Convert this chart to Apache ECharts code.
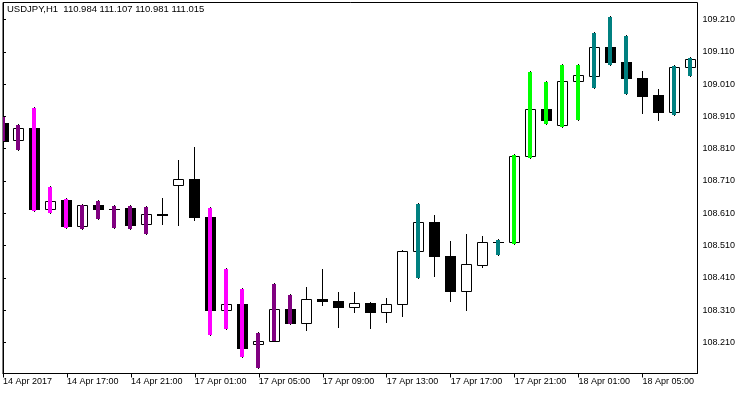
<!DOCTYPE html>
<html>
<head>
<meta charset="utf-8">
<script src="https://cdn.jsdelivr.net/npm/echarts@6/dist/echarts.min.js"></script>
<style>
html,body{margin:0;padding:0;background:#fff;}
#c{width:750px;height:394px;}
</style>
</head>
<body>
<div id="c"></div>
<script>
// ---- data ----
var title = 'USDJPY,H1  110.984 111.107 110.981 111.015';
var open  = [108.891,108.838,108.875,108.624,108.650,108.570,108.637,108.624,108.625,108.577,108.608,108.697,108.715,108.600,108.311,108.328,108.205,108.215,108.315,108.271,108.346,108.340,108.321,108.331,108.305,108.330,108.494,108.584,108.478,108.370,108.451,108.522,108.521,108.788,108.934,108.884,109.020,109.036,109.125,109.079,109.030,108.975,108.923,109.064];
var high  = [108.910,108.888,108.938,108.693,108.656,108.638,108.650,108.635,108.637,108.634,108.656,108.776,108.815,108.629,108.442,108.378,108.244,108.393,108.359,108.383,108.439,108.365,108.365,108.334,108.349,108.495,108.643,108.606,108.523,108.547,108.540,108.530,108.794,109.052,109.021,109.071,109.071,109.170,109.221,109.163,109.052,108.996,109.068,109.095];
var low   = [108.833,108.807,108.617,108.611,108.566,108.562,108.593,108.565,108.562,108.547,108.576,108.574,108.588,108.233,108.251,108.165,108.132,108.214,108.267,108.248,108.327,108.257,108.304,108.254,108.273,108.291,108.409,108.415,108.338,108.310,108.444,108.480,108.514,108.782,108.888,108.878,108.900,108.999,109.069,108.979,108.920,108.898,108.914,109.034];
var close = [108.835,108.875,108.622,108.649,108.570,108.637,108.623,108.624,108.575,108.609,108.604,108.715,108.598,108.310,108.328,108.192,108.216,108.314,108.270,108.345,108.338,108.319,108.331,108.304,108.330,108.494,108.584,108.477,108.369,108.454,108.522,108.522,108.788,108.934,108.899,109.020,109.037,109.125,109.078,109.030,108.973,108.923,109.064,109.088];
// histogram colour state per bar: M=magenta, P=purple, T=teal, L=lime, ''=none
var histState = ['P','P','M','M','M','P','P','P','P','P','','','','M','M','M','P','P','P','','','','','','','','T','','','','','T','L','L','L','L','L','T','T','T','','','T','T'];
var histColors = {M:'#FF00FF', P:'#800080', T:'#008080', L:'#00FF00'};
var yTicks = [108.210,108.310,108.410,108.510,108.610,108.710,108.810,108.910,109.010,109.110,109.210];
var xTickIndex = [0,4,8,12,16,20,24,28,32,36,40];
var xTickLabels = ['14 Apr 2017','14 Apr 17:00','14 Apr 21:00','17 Apr 01:00','17 Apr 05:00','17 Apr 09:00','17 Apr 13:00','17 Apr 17:00','17 Apr 21:00','18 Apr 01:00','18 Apr 05:00'];

// ---- build ----
var rows = open.map(function(o,i){ return [i, o, high[i], low[i], close[i]]; });
var FONT = 'Liberation Sans';

function renderItem(params, api){
  var i = params.dataIndex;
  var k = api.value(0), o = api.value(1), h = api.value(2), l = api.value(3), c = api.value(4);
  var po = api.coord([k,o]), pc = api.coord([k,c]), ph = api.coord([k,h]), pl = api.coord([k,l]);
  var px = Math.floor(po[0]);
  var yh = Math.round(ph[1]), yl = Math.round(pl[1]);
  var yo = po[1], yc = pc[1];
  var top = Math.round(Math.min(yo,yc)), bot = Math.round(Math.max(yo,yc));
  var ch = [];
  ch.push({type:'rect', shape:{x:px, y:yh, width:1, height:yl-yh+1}, style:{fill:'#000'}});
  if (bot - top < 1) {
    ch.push({type:'rect', shape:{x:px-5, y:top, width:11, height:1}, style:{fill:'#000'}});
  } else if (c < o) {
    ch.push({type:'rect', shape:{x:px-5, y:top, width:11, height:bot-top+1}, style:{fill:'#000'}});
  } else {
    ch.push({type:'rect', shape:{x:px-4.5, y:top+0.5, width:10, height:bot-top}, style:{fill:'#fff', stroke:'#000', lineWidth:1}});
  }
  var s = histState[i];
  if (s) {
    ch.push({type:'rect', shape:{x:px-2, y:yh+1, width:4, height:Math.max(1,yl-yh-1)}, style:{fill:histColors[s]}});
  }
  return {type:'group', children:ch};
}

var chart = echarts.init(document.getElementById('c'), null, {renderer:'canvas'});
chart.setOption({
  animation:false,
  backgroundColor:'#fff',
  grid:{left:2.5, top:2.5, width:695, height:371, show:true, borderColor:'#000', borderWidth:1, containLabel:false},
  xAxis:{
    type:'value', min:0, max:43.4375, position:'bottom',
    axisLine:{show:true, lineStyle:{color:'#000', width:1}},
    axisTick:{show:true, length:4, lineStyle:{color:'#000'}, customValues:xTickIndex},
    axisLabel:{show:true, customValues:xTickIndex, align:'left', margin:4, color:'#000', fontSize:9, fontFamily:FONT,
      formatter:function(v){ var j = xTickIndex.indexOf(Math.round(v)); return j>=0 ? xTickLabels[j] : ''; }},
    splitLine:{show:false}
  },
  yAxis:{
    type:'value', min:108.11402, max:109.26263, position:'right', scale:true,
    axisLine:{show:true, lineStyle:{color:'#000', width:1}},
    axisTick:{show:true, length:3, lineStyle:{color:'#000'}, customValues:yTicks},
    axisLabel:{show:true, customValues:yTicks, margin:5, color:'#000', fontSize:9, fontFamily:FONT,
      formatter:function(v){ return v.toFixed(3); }},
    splitLine:{show:false}
  },
  graphic:[{type:'text', left:7, top:4, style:{text:title, font:'9.5px "'+FONT+'"', fill:'#000'}}],
  series:[{type:'custom', renderItem:renderItem, data:rows, clip:true, silent:true,
    encode:{x:0, y:[1,2,3,4]}}]
});
</script>
</body>
</html>
